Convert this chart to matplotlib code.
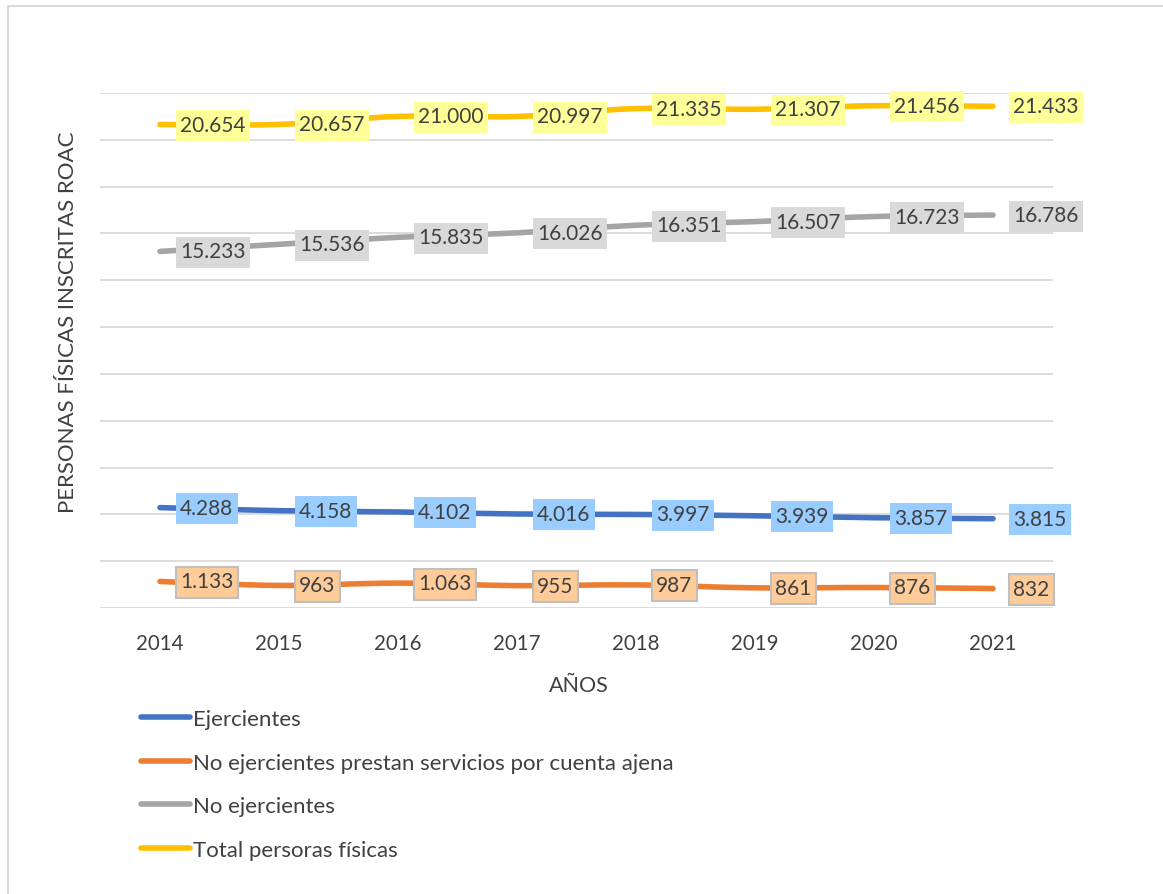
import matplotlib
matplotlib.use("Agg")
import matplotlib.pyplot as plt
from matplotlib.path import Path
from matplotlib.patches import PathPatch, Rectangle
from matplotlib.lines import Line2D
import numpy as np

plt.rcParams['font.family'] = ['Lato', 'DejaVu Sans']

years = ["2014", "2015", "2016", "2017", "2018", "2019", "2020", "2021"]
ejercientes = [4288, 4158, 4102, 4016, 3997, 3939, 3857, 3815]
cuenta_ajena = [1133, 963, 1063, 955, 987, 861, 876, 832]
no_ejercientes = [15233, 15536, 15835, 16026, 16351, 16507, 16723, 16786]
total = [20654, 20657, 21000, 20997, 21335, 21307, 21456, 21433]

series_names = [
    "Ejercientes",
    "No ejercientes prestan servicios por cuenta ajena",
    "No ejercientes",
    "Total persoras físicas",
]
series_values = [ejercientes, cuenta_ajena, no_ejercientes, total]
line_colors = ["#4472C4", "#ED7D31", "#A5A5A5", "#FFC000"]
box_faces = ["#99CCFF", "#FFCC99", "#D9D9D9", "#FFFF99"]
box_edges = ["none", "#BFBFBF", "none", "none"]

TEXT = "#404040"
GRID = "#D9D9D9"

W, H = 1163, 895
fig = plt.figure(figsize=(W / 100, H / 100), dpi=100)
ax = fig.add_axes([100.5 / W, 1 - 609 / H, (1052.5 - 100.5) / W, (609 - 94) / H])

x = np.arange(len(years))


def smooth_path(xs, ys):
    """Cubic Bezier path through the points (Catmull-Rom style tangents)."""
    pts = np.column_stack([xs, ys]).astype(float)
    n = len(pts)
    verts = [pts[0]]
    codes = [Path.MOVETO]
    for i in range(n - 1):
        p0 = pts[i - 1] if i > 0 else pts[i]
        p1 = pts[i]
        p2 = pts[i + 1]
        p3 = pts[i + 2] if i + 2 < n else pts[i + 1]
        c1 = p1 + (p2 - p0) / 6.0
        c2 = p2 - (p3 - p1) / 6.0
        verts += [c1, c2, p2]
        codes += [Path.CURVE4] * 3
    return Path(verts, codes)


def label_box(x0, y0, width, height, mutation_size):
    """Rectangle with a small side padding and a fixed 31 px height."""
    padx = 4.5
    cy = y0 + height / 2.0 - 1.0
    half = 15.5
    xa, xb = x0 - padx, x0 + width + padx
    ya, yb = cy - half, cy + half
    return Path([(xa, ya), (xb, ya), (xb, yb), (xa, yb), (xa, ya)],
                [Path.MOVETO, Path.LINETO, Path.LINETO, Path.LINETO, Path.CLOSEPOLY])


def fmt(v):
    return f"{v:,}".replace(",", ".")


for vals, col, face, edge in zip(series_values, line_colors, box_faces, box_edges):
    patch = PathPatch(smooth_path(x, vals), facecolor="none", edgecolor=col,
                      lw=4.0, capstyle="round", joinstyle="round", zorder=3)
    ax.add_patch(patch)
    for xi, v in zip(x, vals):
        ax.annotate(fmt(v), (xi, v), xytext=(14.5, 0), textcoords="offset points",
                    ha="left", va="center", fontsize=15, color=TEXT, zorder=5,
                    bbox=dict(boxstyle=label_box, facecolor=face,
                              edgecolor=edge, lw=1.5))

ax.set_xlim(-0.5, len(years) - 0.5)
ax.set_ylim(0, 22000)
ax.set_xticks(x)
ax.set_xticklabels(years, fontsize=14.8, color=TEXT)
ax.set_yticks(np.arange(0, 22001, 2000))
ax.set_yticklabels([])
ax.tick_params(axis="both", length=0)
ax.tick_params(axis="x", pad=18)
ax.grid(axis="y", color=GRID, lw=1.3, zorder=0)
ax.set_axisbelow(True)
for s in ax.spines.values():
    s.set_visible(False)

fig.text(579 / W, 1 - 686 / H, "AÑOS", ha="center", va="center",
         fontsize=15.5, color=TEXT)
fig.text(68 / W, 1 - 322 / H, "PERSONAS FÍSICAS INSCRITAS ROAC", ha="center",
         va="center", rotation=90, fontsize=16, color=TEXT)

handles = [Line2D([], [], color=c, lw=4.0, solid_capstyle="round") for c in line_colors]
fig.legend(handles, series_names, loc="upper left",
           bbox_to_anchor=(141 / W, 1 - 710 / H), frameon=False, fontsize=16,
           labelcolor=TEXT, handlelength=2.2, handletextpad=0.15,
           labelspacing=1.06, borderpad=0, borderaxespad=0)

fig.patches.append(Rectangle((8 / W, -0.1), 1.2, 1 - 7 / H + 0.1,
                             transform=fig.transFigure, fill=False,
                             edgecolor=GRID, lw=1.5))

fig.savefig("out.png", dpi=100)
